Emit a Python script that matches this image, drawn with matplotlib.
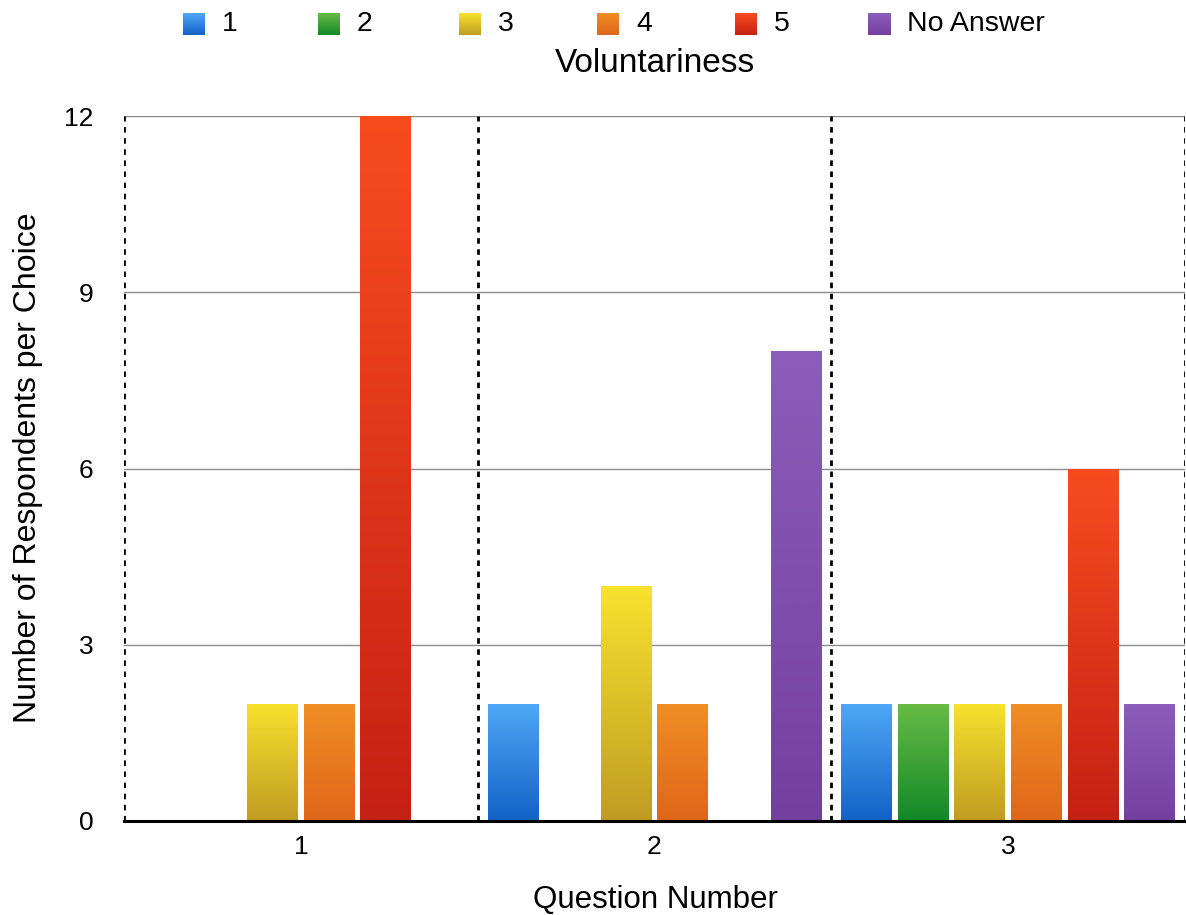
import numpy as np
import matplotlib
matplotlib.use("Agg")
import matplotlib.pyplot as plt
from matplotlib.colors import LinearSegmentedColormap

plt.rcParams['font.family'] = ['Liberation Sans', 'DejaVu Sans']

questions = [1, 2, 3]
choices = ["1", "2", "3", "4", "5", "No Answer"]
counts = {
    "1":         [0, 2, 2],
    "2":         [0, 0, 2],
    "3":         [2, 4, 2],
    "4":         [2, 2, 2],
    "5":         [12, 0, 6],
    "No Answer": [0, 8, 2],
}
# (top, bottom) gradient colours per choice
shades = {
    "1":         ("#4FA8F6", "#1262C6"),
    "2":         ("#68BC45", "#128828"),
    "3":         ("#F8E22E", "#C09C22"),
    "4":         ("#F08E24", "#DF661A"),
    "5":         ("#F84C1F", "#C52014"),
    "No Answer": ("#8C5DBA", "#7440A0"),
}
y_ticks = [0, 3, 6, 9, 12]

W, H = 1186, 915
fig = plt.figure(figsize=(W / 100, H / 100), dpi=100)
ax = fig.add_axes([124 / W, 1 - 821 / H, (1185 - 124) / W, (821 - 116) / H])

slot = 0.16
bar_w = 0.144
n = len(choices)
grad = np.linspace(1, 0, 256).reshape(-1, 1)


def gradient_cmap(name):
    top_c, bot_c = shades[name]
    return LinearSegmentedColormap.from_list(name, [bot_c, top_c])


for k, ch in enumerate(choices):
    cmap = gradient_cmap(ch)
    xs = np.array(questions) + (k - (n - 1) / 2) * slot
    bars = ax.bar(xs, counts[ch], width=bar_w, color=shades[ch][0], zorder=2, linewidth=0)
    for b, v in zip(bars, counts[ch]):
        if v <= 0:
            continue
        x0 = b.get_x()
        img = ax.imshow(grad, cmap=cmap, aspect='auto', zorder=3,
                        extent=[x0, x0 + bar_w, 0, v], interpolation='bicubic')
        img.set_clip_path(b)

ax.set_xlim(0.5, 3.5)
ax.set_ylim(0, 12)
ax.set_yticks(y_ticks)
ax.set_xticks(questions)
ax.tick_params(axis='y', length=0, labelsize=19, pad=22)
ax.tick_params(axis='x', length=0, labelsize=19, pad=10)

for y in y_ticks[1:]:
    ax.axhline(y, color="#8c8c8c", lw=1.0, zorder=1)
for xb in [0.5, 1.5, 2.5, 3.5]:
    ax.axvline(xb, color="black", lw=2.0, ls=(0, (2.0, 2.0)), zorder=4)

for s in ["top", "right", "left"]:
    ax.spines[s].set_visible(False)
ax.spines["bottom"].set_linewidth(2.2)
ax.spines["bottom"].set_zorder(5)

fig.text(655 / W, 1 - 900 / H, "Question Number", ha='center', va='center', fontsize=22.5)
fig.text(28 / W, 1 - 468 / H, "Number of Respondents per Choice", ha='center', va='center',
         rotation=90, fontsize=23)

# legend row: gradient swatches with labels
sw_x = [183, 318, 459, 597, 735, 868]
sw_size = 22
sw_cy = 24
for ch, sx in zip(choices, sw_x):
    sax = fig.add_axes([sx / W, 1 - (sw_cy + sw_size / 2) / H, sw_size / W, sw_size / H])
    sax.imshow(grad, cmap=gradient_cmap(ch), aspect='auto', extent=[0, 1, 0, 1],
               interpolation='bicubic')
    sax.set_axis_off()
    fig.text((sx + sw_size + 17) / W, 1 - sw_cy / H, ch, ha='left', va='center', fontsize=20.5)

fig.text(655 / W, 1 - 63 / H, "Voluntariness", ha='center', va='center', fontsize=24)

fig.savefig("out.png", dpi=100, facecolor="white")
